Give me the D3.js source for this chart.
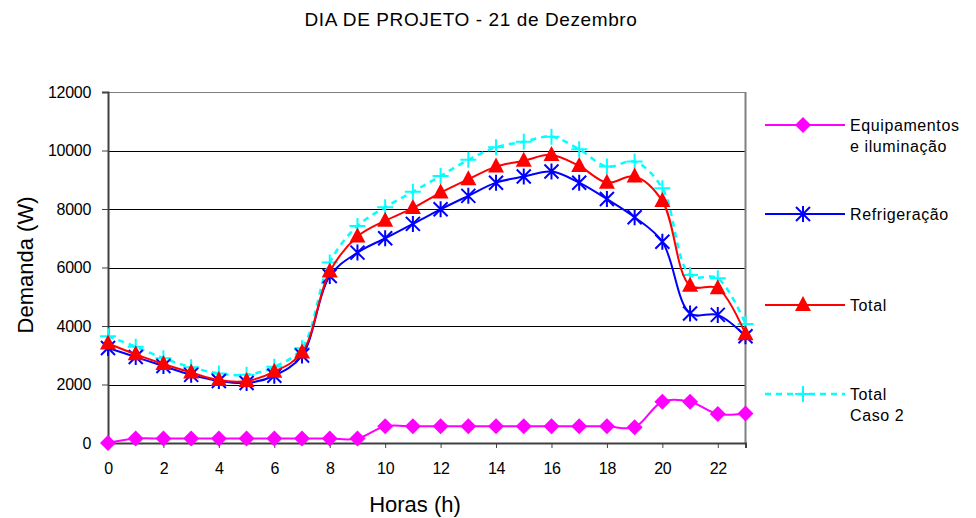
<!DOCTYPE html>
<html><head><meta charset="utf-8">
<script src="https://cdn.jsdelivr.net/npm/d3@7"></script>
<style>body{margin:0;background:#fff;} svg{display:block;font-family:"Liberation Sans",Arial,sans-serif;}</style>
</head><body>
<svg id="c" width="976" height="518"></svg>
<script>
const hours = d3.range(0, 24);
const equipamentos = [0,150,150,150,150,150,150,150,150,150,570,570,570,570,570,570,570,570,570,540,1410,1410,990,1010];
const refrigeracao = [3250,2940,2630,2330,2120,2050,2300,2990,5710,6510,7000,7490,7990,8450,8900,9110,9280,8900,8340,7720,6880,4430,4380,3650];
const total = [3400,3030,2700,2410,2150,2120,2440,3090,5860,7060,7600,8030,8560,9020,9450,9650,9850,9470,8900,9110,8270,5380,5290,3720];
const totalCaso2 = [3650,3290,2900,2590,2380,2330,2610,3240,6170,7420,8060,8590,9130,9680,10110,10300,10470,10040,9450,9620,8710,5740,5630,4070];
const yTicks = [0,2000,4000,6000,8000,10000,12000];
const xTicks = [0,2,4,6,8,10,12,14,16,18,20,22];

const svg = d3.select("#c");
const L = 108, R = 745.5, T = 92, B = 443;
const x = d3.scaleLinear().domain([0,23]).range([L,R]);
const y = d3.scaleLinear().domain([0,12000]).range([B,T]);

// title
svg.append("text").attr("x",471).attr("y",26).attr("text-anchor","middle")
  .attr("font-size",19).attr("letter-spacing","0.6").attr("fill","#000").text("DIA DE PROJETO - 21 de Dezembro");

// gridlines
svg.append("g").selectAll("line").data(yTicks.filter(d=>d>0)).join("line")
  .attr("x1",L).attr("x2",R).attr("y1",d=>Math.round(y(d))+0.5).attr("y2",d=>Math.round(y(d))+0.5)
  .attr("stroke",d=>d===12000?"#808080":"#000").attr("stroke-width",1);
// right border
svg.append("line").attr("x1",R).attr("x2",R).attr("y1",T).attr("y2",B).attr("stroke","#808080").attr("stroke-width",2);

// axes
const yAxis = d3.axisLeft(y).tickValues(yTicks).tickSize(6).tickPadding(11).tickFormat(d3.format("d"));
const gy = svg.append("g").attr("transform",`translate(${L},0)`).call(yAxis);
const xAxis = d3.axisBottom(x).tickValues(xTicks).tickSize(5).tickPadding(15).tickFormat(d3.format("d"));
const gx = svg.append("g").attr("transform",`translate(0,${B})`).call(xAxis);
[gy,gx].forEach(g=>{
  g.select(".domain").attr("stroke","#404040").attr("stroke-width",2);
  g.selectAll(".tick line").attr("stroke","#404040").attr("stroke-width",1);
  g.selectAll("text").attr("font-size",16).attr("fill","#000").attr("font-family","Liberation Sans, Arial, sans-serif").attr("letter-spacing","-0.3");
});

svg.append("text").attr("transform","translate(33,265) rotate(-90)").attr("text-anchor","middle")
  .attr("font-size",22).attr("fill","#000").text("Demanda (W)");
svg.append("text").attr("x",415).attr("y",512).attr("text-anchor","middle")
  .attr("font-size",22).attr("fill","#000").text("Horas (h)");

const series = [
  {name:"Equipamentos", vals:equipamentos, color:"#ff00ff", marker:"diamond", dash:null},
  {name:"Refrigeração", vals:refrigeracao, color:"#0000ff", marker:"asterisk", dash:null},
  {name:"Total", vals:total, color:"#ff0000", marker:"triangle", dash:null},
  {name:"Total Caso 2", vals:totalCaso2, color:"#00ffff", marker:"plus", dash:"6,5"},
];

const line = d3.line().x((d,i)=>x(hours[i])).y(d=>y(d)).curve(d3.curveCatmullRom.alpha(0.5));

function drawMarker(g, type, color, cx, cy){
  if(type==="diamond"){
    g.append("path").attr("d",`M${cx},${cy-8}L${cx+8},${cy}L${cx},${cy+8}L${cx-8},${cy}Z`).attr("fill",color);
  } else if(type==="triangle"){
    g.append("path").attr("d",`M${cx},${cy-9}L${cx+8},${cy+6}L${cx-8},${cy+6}Z`).attr("fill",color);
  } else if(type==="asterisk"){
    const s=7;
    g.append("path").attr("d",`M${cx-s},${cy-s}L${cx+s},${cy+s}M${cx-s},${cy+s}L${cx+s},${cy-s}M${cx},${cy-s-1}L${cx},${cy+s+1}`)
      .attr("stroke",color).attr("stroke-width",2).attr("fill","none");
  } else if(type==="plus"){
    const s=8;
    g.append("path").attr("d",`M${cx-s},${cy}L${cx+s},${cy}M${cx},${cy-s}L${cx},${cy+s}`)
      .attr("stroke",color).attr("stroke-width",2).attr("fill","none");
  }
}

const order = [3,1,2,0];
order.forEach(k=>{
  const s = series[k];
  const g = svg.append("g");
  g.append("path").datum(s.vals).attr("d",line).attr("fill","none").attr("stroke",s.color)
    .attr("stroke-width",s.dash?2.5:2).attr("stroke-dasharray",s.dash);
  s.vals.forEach((v,i)=>drawMarker(g,s.marker,s.color,x(hours[i]),y(v)));
});

// legend
const legY = [125,214,305,394];
const legText = [["Equipamentos","e iluminação"],["Refrigeração"],["Total"],["Total","Caso 2"]];
series.forEach((s,i)=>{
  const g = svg.append("g");
  g.append("line").attr("x1",765).attr("x2",845).attr("y1",legY[i]).attr("y2",legY[i])
    .attr("stroke",s.color).attr("stroke-width",s.dash?2.5:2).attr("stroke-dasharray",s.dash);
  drawMarker(g,s.marker,s.color,803,legY[i]);
  legText[i].forEach((t,j)=>{
    g.append("text").attr("x",850).attr("y",legY[i]+6+j*21).attr("font-size",16).attr("letter-spacing","0.6").attr("fill","#000").text(t);
  });
});
</script>
</body></html>
